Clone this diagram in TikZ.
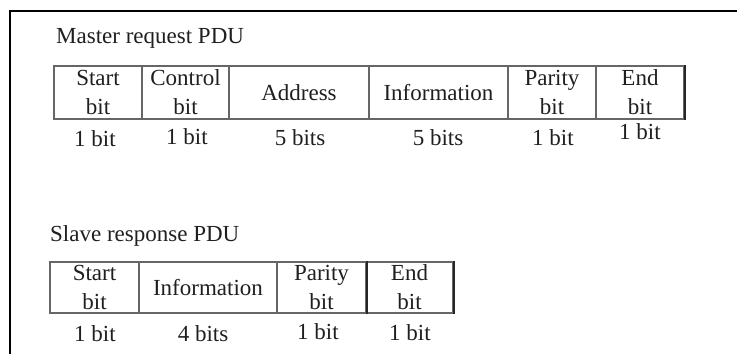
\documentclass[tikz,border=0pt]{standalone}
\usepackage{fontspec}
\setmainfont{Liberation Serif}
\begin{document}
\begin{tikzpicture}[x=1pt,y=-1pt,
  cell/.style={draw=black!60, line width=1.5pt, inner sep=0pt, align=center,
    font=\fontsize{23}{29}\selectfont, text=black!88},
  mrow/.style={cell, minimum height=53pt},
  srow/.style={cell, minimum height=51pt},
  darkedge/.style={black!85, line width=1.8pt},
  bitlbl/.style={anchor=base, inner sep=0pt, font=\fontsize{23}{29}\selectfont, text=black!88},
  title/.style={anchor=base west, inner sep=0pt, font=\fontsize{23}{29}\selectfont, text=black!88}]
\useasboundingbox (0,0) rectangle (737,354);
\draw[line width=2pt] (10,354) -- (10,11) -- (737,11);

% Master request PDU
\node[title] (mt) at (56,43) {Master request PDU};
\node[mrow, minimum width=88pt]  (m1) at (98,92.5)    {Start\\bit};
\node[mrow, minimum width=87pt]  (m2) at (185.5,92.5) {Control\\bit};
\node[mrow, minimum width=140pt] (m3) at (299,92.5)   {Address};
\node[mrow, minimum width=139pt] (m4) at (438.5,92.5) {Information};
\node[mrow, minimum width=88pt]  (m5) at (552,92.5)   {Parity\\bit};
\node[mrow, minimum width=88pt]  (m6) at (640,92.5)   {End\\bit};
\draw[darkedge] (m6.north east) -- (m6.south east);

\node[bitlbl] (b1) at (95,146)  {1 bit};
\node[bitlbl] (b2) at (187,144) {1 bit};
\node[bitlbl] (b3) at (300,145) {5 bits};
\node[bitlbl] (b4) at (438,145) {5 bits};
\node[bitlbl] (b5) at (553,145) {1 bit};
\node[bitlbl] (b6) at (640,139) {1 bit};

% Slave response PDU
\node[title] (st) at (50,241) {Slave response PDU};
\node[srow, minimum width=89pt]  (s1) at (94.5,287.5)  {Start\\bit};
\node[srow, minimum width=138pt] (s2) at (208,287.5)   {Information};
\node[srow, minimum width=89pt]  (s3) at (321.5,287.5) {Parity\\bit};
\node[srow, minimum width=87pt]  (s4) at (409.5,287.5) {End\\bit};
\draw[darkedge] (s4.north east) -- (s4.south east);
\draw[darkedge] (s3.north east) -- (s3.south east);

\node[bitlbl] (c1) at (95,341)  {1 bit};
\node[bitlbl] (c2) at (203,341) {4 bits};
\node[bitlbl] (c3) at (318,339) {1 bit};
\node[bitlbl] (c4) at (410,340) {1 bit};
\end{tikzpicture}
\end{document}
